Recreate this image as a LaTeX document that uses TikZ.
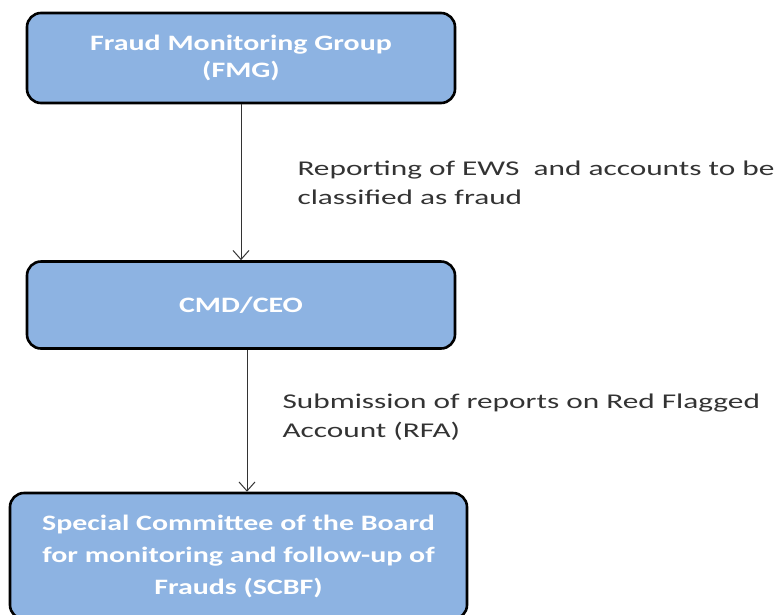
\documentclass[tikz,border=0pt]{standalone}
\usepackage{fontspec}
\setmainfont{Carlito}[FakeStretch=1.49]
\newfontfamily\boxfont{Carlito}[FakeStretch=1.36]
\usetikzlibrary{arrows.meta}

\begin{document}
\begin{tikzpicture}[
    x=1pt, y=-1pt,
    box/.style={draw=black, line width=2.6pt, fill=boxblue, rounded corners=14pt,
      text=white, font=\boxfont\fontsize{22}{27}\selectfont\bfseries, align=center},
    note/.style={anchor=north west, align=left, text=black!80,
      font=\fontsize{21}{29}\selectfont},
    flow/.style={-{Straight Barb[length=9pt, width=16pt]}, line width=1pt, black!80}]

  \definecolor{boxblue}{HTML}{8DB3E2}
  \useasboundingbox (0,0) rectangle (776,614);

  % Draw boxes
  \node [box, minimum width=428pt, minimum height=90pt] (fmg) at (241,58)
    {Fraud Monitoring Group\\(FMG)};
  \node [box, minimum width=428pt, minimum height=87pt] (ceo) at (241,305)
    {CMD/CEO};
  \node [box, minimum width=457pt, minimum height=126pt,
    font=\boxfont\fontsize{22}{32}\selectfont\bfseries] (scbf) at (238.5,556)
    {Special Committee of the Board\\for monitoring and follow-up of\\Frauds (SCBF)};

  % Draw arrows
  \draw [flow] (fmg.south) -- (ceo.north);
  \draw [flow] ([xshift=6pt]ceo.south) -- ([xshift=6pt]ceo.south |- scbf.north);

  % Arrow texts
  \node [note] (report) at (294,157)
    {Reporting of EWS\ \ and accounts to be\\classified as fraud};
  \node [note] (submit) at (279,390)
    {Submission of reports on Red Flagged\\Account (RFA)};

\end{tikzpicture}
\end{document}
